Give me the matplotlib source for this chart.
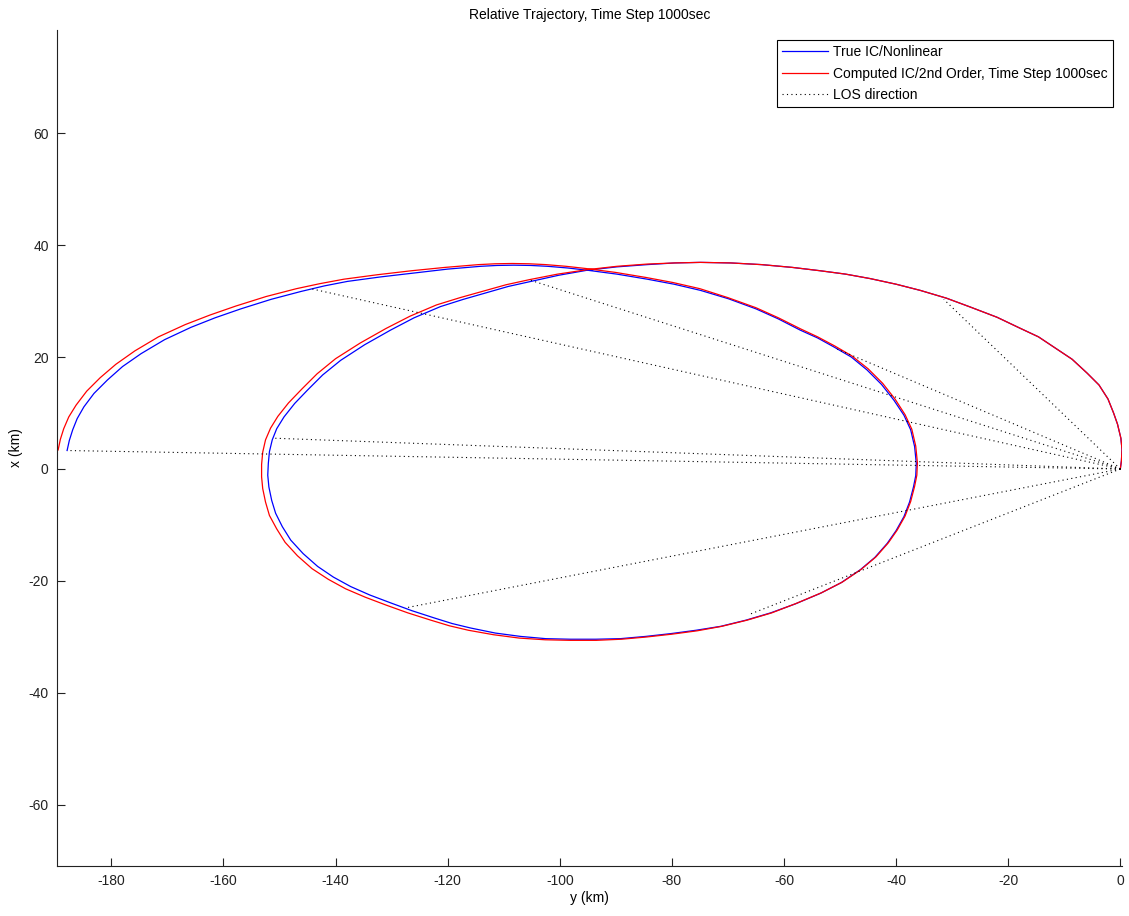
import matplotlib
matplotlib.use('Agg')
import matplotlib.pyplot as plt

plt.rcParams['font.family'] = ['Liberation Sans', 'DejaVu Sans']
plt.rcParams['font.size'] = 10
plt.rcParams['axes.unicode_minus'] = False

# true IC / nonlinear trajectory, (y, x) in km
true_path = [
    (0, 0), (0.2, 1.5), (0.3, 3.5), (0.1, 5.5), (-0.5, 8.0), (-1.2, 10.0), (-2.2, 12.5),
    (-3.8, 15.0), (-5.9, 17.1), (-8.6, 19.6), (-11.9, 21.8), (-14.6, 23.6), (-17.8, 25.1),
    (-22.0, 27.1), (-26.7, 28.9), (-31.0, 30.5), (-35.7, 31.9), (-40.0, 33.0), (-44.6, 34.0),
    (-49.0, 34.8), (-53.5, 35.4), (-58.5, 36.0), (-64.0, 36.5), (-69.5, 36.8), (-74.9, 36.9),
    (-79.5, 36.8), (-84.4, 36.5), (-89.8, 36.1), (-95.1, 35.5), (-100.2, 34.6), (-105.2, 33.5),
    (-109.2, 32.6), (-113.0, 31.5), (-117.2, 30.3), (-121.3, 29.0), (-126.0, 27.0),
    (-130.2, 24.8), (-134.8, 22.2), (-139.1, 19.4), (-142.3, 16.8), (-145.0, 14.1),
    (-147.3, 11.7), (-149.2, 9.3), (-150.5, 7.2), (-151.3, 5.2), (-151.8, 3.1), (-152.0, 1.0),
    (-152.1, -1.1), (-151.9, -3.2), (-151.4, -5.6), (-150.7, -7.9), (-149.5, -10.3),
    (-148.0, -12.7), (-145.8, -15.1), (-143.2, -17.4), (-140.4, -19.3), (-137.3, -21.0),
    (-133.9, -22.5), (-130.2, -23.9), (-126.4, -25.3), (-122.4, -26.6), (-119.2, -27.6),
    (-115.9, -28.4), (-111.5, -29.3), (-107.0, -29.9), (-102.5, -30.3), (-98.1, -30.4),
    (-93.6, -30.4), (-89.2, -30.3), (-84.7, -29.9), (-80.2, -29.4), (-75.7, -28.8),
    (-71.3, -28.1), (-66.8, -27.0), (-62.4, -25.7), (-58.0, -24.1), (-53.5, -22.2),
    (-49.8, -20.3), (-46.4, -18.0), (-43.8, -15.8), (-41.6, -13.3), (-40.0, -11.0),
    (-38.6, -8.5), (-37.6, -5.9), (-36.9, -3.2), (-36.5, -1.2), (-36.4, 1.0), (-36.7, 4.0),
    (-37.4, 7.0), (-38.6, 9.6), (-40.4, 12.3), (-42.6, 15.1), (-45.2, 17.7), (-48.0, 20.0),
    (-51.1, 21.8), (-54.0, 23.4), (-57.1, 24.8), (-61.0, 26.8), (-65.0, 28.6), (-69.9, 30.4),
    (-74.9, 31.9), (-79.6, 33.0), (-84.4, 33.9), (-89.8, 34.8), (-95.1, 35.5), (-98.6, 35.9),
    (-102.2, 36.2), (-105.2, 36.35), (-108.2, 36.4), (-111.2, 36.35), (-114.1, 36.2),
    (-120.0, 35.7), (-126.0, 35.0), (-132.0, 34.3), (-137.9, 33.5), (-142.0, 32.7),
    (-146.2, 31.7), (-151.5, 30.3), (-156.9, 28.6), (-161.5, 27.0), (-165.8, 25.3),
    (-170.5, 23.1), (-174.7, 20.6), (-178.0, 18.3), (-180.7, 15.9), (-183.1, 13.5),
    (-184.9, 11.1), (-186.1, 9.0), (-186.9, 7.0), (-187.5, 5.1), (-187.9, 3.3),
]

# computed IC / 2nd order trajectory
comp_path = [
    (0, 0), (0.2, 1.5), (0.3, 3.5), (0.1, 5.5), (-0.5, 8.0), (-1.2, 10.0), (-2.2, 12.5),
    (-3.8, 15.0), (-5.9, 17.1), (-8.6, 19.6), (-11.9, 21.8), (-14.6, 23.6), (-17.8, 25.1),
    (-22.0, 27.1), (-26.7, 28.9), (-31.0, 30.5), (-35.7, 31.9), (-40.0, 33.0), (-44.6, 34.0),
    (-49.0, 34.8), (-53.5, 35.4), (-58.5, 36.0), (-64.0, 36.5), (-69.5, 36.8), (-74.9, 36.9),
    (-79.5, 36.8), (-84.4, 36.6), (-89.8, 36.2), (-95.1, 35.6), (-100.4, 34.8), (-105.5, 33.8),
    (-109.6, 32.9), (-113.5, 31.8), (-117.8, 30.6), (-122.0, 29.3), (-126.7, 27.3),
    (-131.0, 25.1), (-135.6, 22.5), (-140.0, 19.7), (-143.3, 17.0), (-146.0, 14.3),
    (-148.4, 11.8), (-150.3, 9.4), (-151.6, 7.3), (-152.5, 5.2), (-153.0, 3.0), (-153.2, 0.8),
    (-153.2, -1.4), (-153.0, -3.5), (-152.5, -5.9), (-151.8, -8.3), (-150.5, -10.7),
    (-149.0, -13.1), (-146.8, -15.5), (-144.2, -17.8), (-141.3, -19.7), (-138.2, -21.4),
    (-134.7, -22.9), (-131.0, -24.3), (-127.1, -25.7), (-123.0, -27.0), (-119.7, -28.0),
    (-116.3, -28.8), (-111.8, -29.6), (-107.2, -30.2), (-102.6, -30.5), (-98.1, -30.6),
    (-93.5, -30.6), (-89.0, -30.4), (-84.5, -30.0), (-80.0, -29.5), (-75.5, -28.9),
    (-71.1, -28.1), (-66.6, -27.0), (-62.2, -25.7), (-57.8, -24.0), (-53.3, -22.1),
    (-49.6, -20.2), (-46.2, -17.9), (-43.6, -15.7), (-41.4, -13.2), (-39.8, -10.9),
    (-38.4, -8.4), (-37.4, -5.8), (-36.7, -3.1), (-36.3, -1.1), (-36.2, 1.1), (-36.5, 4.1),
    (-37.2, 7.1), (-38.4, 9.7), (-40.2, 12.5), (-42.4, 15.3), (-45.0, 17.9), (-47.9, 20.2),
    (-51.0, 22.0), (-54.0, 23.6), (-57.0, 25.0), (-61.0, 27.0), (-65.0, 28.8), (-70.0, 30.6),
    (-75.0, 32.2), (-79.8, 33.3), (-84.6, 34.2), (-90.0, 35.1), (-95.3, 35.8), (-98.9, 36.2),
    (-102.5, 36.5), (-105.5, 36.65), (-108.5, 36.7), (-111.5, 36.65), (-114.5, 36.5),
    (-120.5, 36.0), (-126.5, 35.4), (-132.5, 34.7), (-138.5, 33.9), (-142.8, 33.1),
    (-147.0, 32.2), (-152.4, 30.8), (-157.8, 29.1), (-162.4, 27.5), (-166.8, 25.8),
    (-171.6, 23.6), (-175.8, 21.1), (-179.2, 18.7), (-182.0, 16.3), (-184.4, 13.9),
    (-186.3, 11.4), (-187.6, 9.3), (-188.5, 7.2), (-189.1, 5.3), (-189.5, 3.4),
]

# line of sight end points (y, x)
los_ends = [(-31.5, 30.3), (-105.2, 33.7), (-151.0, 5.5), (-127.5, -24.8),
            (-66.0, -25.9), (-50.5, 21.4), (-144.4, 32.2), (-187.9, 3.3)]

fig = plt.figure(figsize=(11.29, 9.16), dpi=100)
ax = fig.add_axes([57 / 1129, 50 / 916, 1065 / 1129, 836 / 916])

ty, tx = zip(*true_path)
cy, cx = zip(*comp_path)
ax.plot(ty, tx, color='#0000ff', lw=0.9, label='True IC/Nonlinear')
ax.plot(cy, cx, color='#ff0000', lw=0.9, label='Computed IC/2nd Order, Time Step 1000sec')
for i, (ly, lx) in enumerate(los_ends):
    ax.plot([0, ly], [0, lx], color='k', lw=0.8, linestyle=(0, (1, 3)),
            label='LOS direction' if i == 0 else None)

ax.set_xlim(-189.7, 0.3)
ax.set_ylim(-70.9, 78.4)
ax.set_xticks(range(-180, 1, 20))
ax.set_yticks(range(-60, 61, 20))
ax.tick_params(direction='in', length=6, width=0.8, colors='#222222', pad=6)
ax.spines['top'].set_visible(False)
ax.spines['right'].set_visible(False)
for s in ['left', 'bottom']:
    ax.spines[s].set_color('#222222')
    ax.spines[s].set_linewidth(0.8)

ax.set_xlabel('y (km)', labelpad=2)
ax.set_ylabel('x (km)', labelpad=4)
ax.set_title('Relative Trajectory, Time Step 1000sec', fontsize=10, pad=8)

leg = ax.legend(loc='upper right', bbox_to_anchor=(0.9915, 0.988), fancybox=False, framealpha=1,
                edgecolor='black', handlelength=3.3, handletextpad=0.4, borderpad=0.36,
                labelspacing=0.55, borderaxespad=0)
leg.get_frame().set_linewidth(0.8)

plt.savefig('out.png', dpi=100)
